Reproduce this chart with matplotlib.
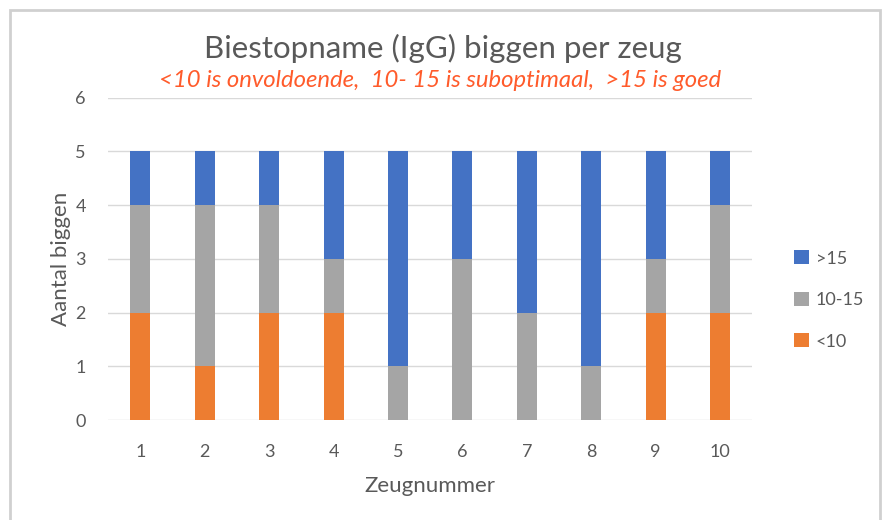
import matplotlib.pyplot as plt
import matplotlib.patches as mpatches
import numpy as np

plt.rcParams['font.family'] = ['Lato', 'DejaVu Sans']

# data
zeugen = [1, 2, 3, 4, 5, 6, 7, 8, 9, 10]
onder10 = [2, 1, 2, 2, 0, 0, 0, 0, 2, 2]
tien_15 = [2, 3, 2, 1, 1, 3, 2, 1, 1, 2]
boven15 = [1, 1, 1, 2, 4, 2, 3, 4, 2, 1]

c_oranje = '#ED7D31'
c_grijs = '#A5A5A5'
c_blauw = '#4472C4'
c_tekst = '#595959'

fig = plt.figure(figsize=(8.86, 5.2), dpi=100)
ax = fig.add_axes([0.122, 0.192, 0.727, 0.620])

x = np.array(zeugen)
b1 = np.array(onder10)
b2 = b1 + np.array(tien_15)
w = 0.31
ax.bar(x, onder10, width=w, color=c_oranje, label='<10', zorder=3)
ax.bar(x, tien_15, width=w, bottom=b1, color=c_grijs, label='10-15', zorder=3)
ax.bar(x, boven15, width=w, bottom=b2, color=c_blauw, label='>15', zorder=3)

ax.set_xlim(0.5, 10.5)
ax.set_ylim(0, 6)
ax.set_xticks(zeugen)
ax.set_yticks(range(0, 7))
ax.yaxis.grid(True, color='#D9D9D9', linewidth=1, zorder=0)
for s in ax.spines.values():
    s.set_visible(False)
ax.tick_params(length=0, colors=c_tekst, labelsize=13, pad=17)
ax.tick_params(axis='y', pad=16)

ax.set_xlabel('Zeugnummer', fontsize=16, color=c_tekst, labelpad=12)
ax.set_ylabel('Aantal biggen', fontsize=16, color=c_tekst, labelpad=3)

fig.text(0.5, 0.907, 'Biestopname (IgG) biggen per zeug', ha='center', va='center',
         fontsize=22.5, color=c_tekst)
fig.text(0.497, 0.845, '<10 is onvoldoende,  10- 15 is suboptimaal,  >15 is goed',
         ha='center', va='center', fontsize=17.2, color='#FF5B2B', style='italic')

h, l = ax.get_legend_handles_labels()
leg = fig.legend(h[::-1], l[::-1], loc='center left', bbox_to_anchor=(0.878, 0.423),
                 frameon=False, fontsize=13, labelspacing=1.4, handlelength=0.8,
                 handleheight=0.8, handletextpad=0.4)
for t in leg.get_texts():
    t.set_color(c_tekst)

# grijze rand om de grafiek
fig.patches.append(mpatches.Rectangle((10 / 886, -0.01), 870 / 886, 1 - 10 / 520 + 0.01,
                                      transform=fig.transFigure, fill=False,
                                      edgecolor='#D0D0D0', linewidth=2))

fig.savefig('out.png', dpi=100)
